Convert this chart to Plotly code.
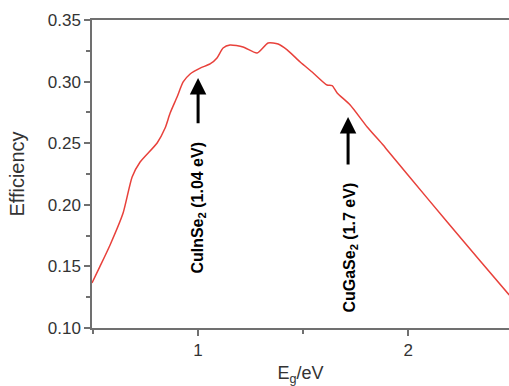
import plotly.graph_objects as go

# Band gap (eV) and efficiency values
eg = [0.495, 0.533, 0.581, 0.643, 0.686, 0.724, 0.805, 0.843, 0.867, 0.900, 0.929,
      0.962, 1.010, 1.057, 1.090, 1.119, 1.152, 1.214, 1.281, 1.333, 1.381, 1.424,
      1.486, 1.548, 1.614, 1.638, 1.662, 1.724, 1.805, 1.881, 1.900, 1.995, 2.186,
      2.343, 2.481]
eff = [0.1365, 0.150, 0.1674, 0.1933, 0.2226, 0.2347, 0.2502, 0.2623, 0.2745, 0.2875,
       0.2997, 0.3062, 0.3110, 0.3143, 0.3192, 0.3273, 0.3297, 0.3281, 0.3232, 0.3313,
       0.3305, 0.3257, 0.3159, 0.3070, 0.2972, 0.2968, 0.2908, 0.2810, 0.2632, 0.2485,
       0.2445, 0.2250, 0.1860, 0.1544, 0.1268]

labels = ["CuInSe<sub>2</sub> (1.04 eV)", "CuGaSe<sub>2</sub> (1.7 eV)"]
label_x = [1.0, 1.724]
label_y = [0.1978, 0.1654]
arrow_x = [1.0, 1.714]
arrow_tip = [0.303, 0.2713]
arrow_tail = [0.265, 0.2315]

fig = go.Figure()
fig.add_trace(go.Scatter(x=eg, y=eff, mode="lines",
                         line=dict(color="#e8413b", width=1.5, shape="spline", smoothing=0.6),
                         hoverinfo="skip", showlegend=False))

for t, lx, ly in zip(labels, label_x, label_y):
    fig.add_annotation(x=lx, y=ly, xref="x", yref="y", text="<b>" + t + "</b>",
                       showarrow=False, textangle=-90,
                       font=dict(family="Liberation Sans, Arial", size=16, color="black"))
for ax_, tip, tail in zip(arrow_x, arrow_tip, arrow_tail):
    fig.add_annotation(x=ax_, y=tip, ax=ax_, ay=tail, xref="x", yref="y",
                       axref="x", ayref="y", text="", showarrow=True,
                       arrowhead=2, arrowsize=1.1, arrowwidth=3, arrowcolor="black")

axis_col = "#707070"
fig.update_layout(
    width=509, height=386,
    margin=dict(l=92, r=0, t=20, b=58),
    paper_bgcolor="white", plot_bgcolor="white",
    font=dict(family="Liberation Sans, Arial", color="#333333", size=18),
    xaxis=dict(range=[0.495, 2.48], tick0=0, dtick=1, ticks="outside", ticklen=6,
               tickwidth=1.5, tickcolor=axis_col, showline=True, linecolor=axis_col,
               linewidth=1.5, mirror=True, showgrid=False, zeroline=False,
               automargin=False,
               minor=dict(dtick=0.5, tick0=0, ticks="outside", ticklen=4,
                          tickcolor=axis_col, tickwidth=1.5),
               tickfont=dict(size=17),
               title=dict(text="E<sub>g</sub>/eV", font=dict(size=18), standoff=8)),
    yaxis=dict(range=[0.10, 0.35], tick0=0, dtick=0.05, tickformat=".2f",
               ticks="outside", ticklen=6, tickwidth=1.5, tickcolor=axis_col,
               showline=True, linecolor=axis_col, linewidth=1.5, mirror=False,
               showgrid=False, zeroline=False, automargin=False,
               minor=dict(dtick=0.025, tick0=0, ticks="outside", ticklen=4,
                          tickcolor=axis_col, tickwidth=1.5),
               tickfont=dict(size=17),
               title=dict(text="Efficiency", font=dict(size=20), standoff=18)),
)

fig.write_html("out.html", config={"displayModeBar": False},
               post_script="document.body.style.margin='0px';document.body.style.overflow='hidden';")
